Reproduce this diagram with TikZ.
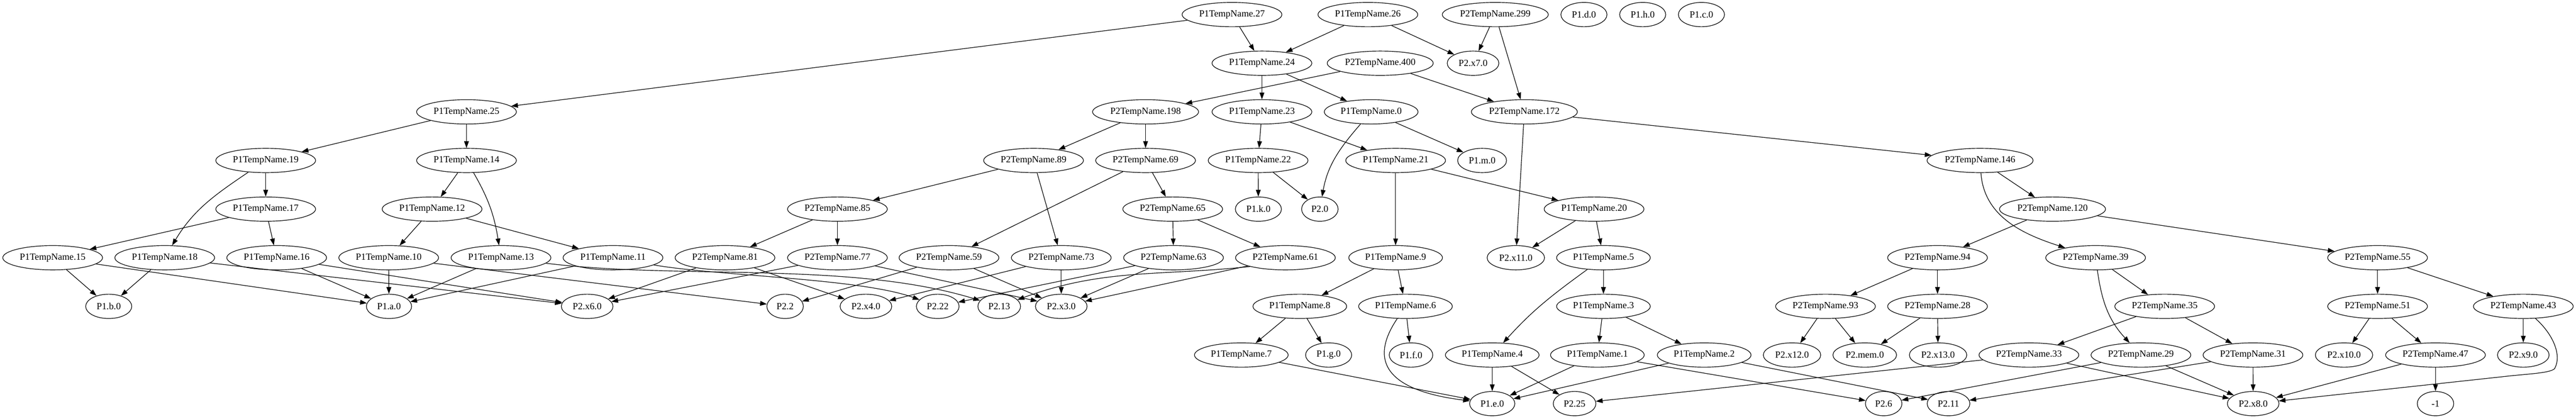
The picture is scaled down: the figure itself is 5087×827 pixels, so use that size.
\documentclass[tikz,border=0pt]{standalone}
\usepackage{fontspec}
\setmainfont{Liberation Serif}
\usetikzlibrary{shapes.geometric,arrows.meta}
\begin{document}
\begin{tikzpicture}[x=0.75pt,y=-0.75pt,
 gv/.style={draw, ellipse, line width=0.9pt, minimum height=36pt, inner sep=0pt, font=\fontsize{14pt}{16pt}\selectfont},
 wA/.style={gv, minimum width=147.75pt},
 wB/.style={gv, minimum width=138.75pt},
 wC/.style={gv, minimum width=157pt},
 wS/.style={gv, minimum width=68.25pt},
 wX/.style={gv, minimum width=76.5pt},
 wXX/.style={gv, minimum width=85pt},
 wM/.style={gv, minimum width=94.3pt},
 wN/.style={gv, minimum width=54pt},
 wNN/.style={gv, minimum width=63.2pt},
 edg/.style={draw, line width=0.9pt, -{Triangle[length=10pt,width=7pt]}}]
\useasboundingbox (0,0) rectangle (5087,827);
% row 0
\node[wA] (n27) at (2432.9,28.8) {P1TempName.27};
\node[wA] (n26) at (2701.2,28.8) {P1TempName.26};
\node[wC] (n299) at (2952.8,28.8) {P2TempName.299};
\node[wS] (p1d) at (3127.9,28.8) {P1.d.0};
\node[wS] (p1h) at (3243.9,28.8) {P1.h.0};
\node[wS] (p1c) at (3359.9,28.8) {P1.c.0};
% row 1
\node[wA] (n24) at (2492,124.8) {P1TempName.24};
\node[wC] (n400) at (2725.6,124.8) {P2TempName.400};
\node[wX] (x7) at (2908.9,124.8) {P2.x7.0};
% row 2
\node[wA] (n25) at (921.2,220.8) {P1TempName.25};
\node[wC] (n198) at (2262.2,220.8) {P2TempName.198};
\node[wA] (n23) at (2492,220.8) {P1TempName.23};
\node[wB] (n0) at (2707.7,220.8) {P1TempName.0};
\node[wC] (n172) at (3010.2,220.8) {P2TempName.172};
% row 3
\node[wA] (n19) at (524.7,316.8) {P1TempName.19};
\node[wA] (n14) at (921.2,316.8) {P1TempName.14};
\node[wA] (n89) at (2041,316.8) {P2TempName.89};
\node[wA] (n69) at (2262.2,316.8) {P2TempName.69};
\node[wA] (n22) at (2484.4,316.8) {P1TempName.22};
\node[wA] (n21) at (2756,316.8) {P1TempName.21};
\node[wS, minimum width=72.4pt] (p1m) at (2926.8,316.8) {P1.m.0};
\node[wC] (n146) at (3910.1,316.8) {P2TempName.146};
% row 4
\node[wA] (n17) at (524.7,412.8) {P1TempName.17};
\node[wA] (n12) at (853.2,412.8) {P1TempName.12};
\node[wA] (n85) at (1653.7,412.8) {P2TempName.85};
\node[wA] (n65) at (2315.8,412.8) {P2TempName.65};
\node[wS] (p1k) at (2485,412.8) {P1.k.0};
\node[wN] (p20) at (2606.4,412.8) {P2.0};
\node[wA] (n20) at (3147.9,412.8) {P1TempName.20};
\node[wC] (n120) at (4053.2,412.8) {P2TempName.120};
% row 5
\node[wA] (n15) at (104,508.8) {P1TempName.15};
\node[wA] (n18) at (325.3,508.8) {P1TempName.18};
\node[wA] (n16) at (546.4,508.8) {P1TempName.16};
\node[wA] (n10) at (767.6,508.8) {P1TempName.10};
\node[wA] (n13) at (989.3,508.8) {P1TempName.13};
\node[wA] (n11) at (1210.5,508.8) {P1TempName.11};
\node[wA] (n81) at (1431.7,508.8) {P2TempName.81};
\node[wA] (n77) at (1653.7,508.8) {P2TempName.77};
\node[wA] (n59) at (1874,508.8) {P2TempName.59};
\node[wA] (n73) at (2095.7,508.8) {P2TempName.73};
\node[wA] (n63) at (2317.4,508.8) {P2TempName.63};
\node[wA] (n61) at (2538.4,508.8) {P2TempName.61};
\node[wB] (n9) at (2756,508.8) {P1TempName.9};
\node[wXX] (x11) at (2993.4,508.8) {P2.x11.0};
\node[wB] (n5) at (3166.4,508.8) {P1TempName.5};
\node[wA] (n94) at (3826.1,508.8) {P2TempName.94};
\node[wA] (n39) at (4138.3,508.8) {P2TempName.39};
\node[wA] (n55) at (4695.1,508.8) {P2TempName.55};
% row 6
\node[wS] (p1b) at (214.7,604.8) {P1.b.0};
\node[wS, minimum width=67pt] (p1a) at (768.2,604.8) {P1.a.0};
\node[wX] (x6) at (1159.5,604.8) {P2.x6.0};
\node[wN] (p22) at (1550.4,604.8) {P2.2};
\node[wX] (x4) at (1710,604.8) {P2.x4.0};
\node[wNN] (p222) at (1851.8,604.8) {P2.22};
\node[wNN] (p213) at (1973.2,604.8) {P2.13};
\node[wX] (x3) at (2095.7,604.8) {P2.x3.0};
\node[wB] (n8) at (2566.8,604.8) {P1TempName.8};
\node[wB] (n6) at (2775.5,604.8) {P1TempName.6};
\node[wB] (n3) at (3166.4,604.8) {P1TempName.3};
\node[wA] (n93) at (3604.9,604.8) {P2TempName.93};
\node[wA] (n28) at (3826.1,604.8) {P2TempName.28};
\node[wA] (n35) at (4274.7,604.8) {P2TempName.35};
\node[wA] (n51) at (4695.1,604.8) {P2TempName.51};
\node[wA] (n43) at (4982.9,604.8) {P2TempName.43};
% row 7
\node[wB] (n7) at (2451.3,700.8) {P1TempName.7};
\node[wS] (p1g) at (2623.7,700.8) {P1.g.0};
\node[wS, minimum width=64.5pt] (p1f) at (2786.4,700.8) {P1.f.0};
\node[wB] (n4) at (2946.8,700.8) {P1TempName.4};
\node[wB] (n1) at (3154.4,700.8) {P1TempName.1};
\node[wB] (n2) at (3365.3,700.8) {P1TempName.2};
\node[wXX] (x12) at (3538.8,700.8) {P2.x12.0};
\node[wM] (mem) at (3682.4,700.8) {P2.mem.0};
\node[wXX] (x13) at (3827.2,700.8) {P2.x13.0};
\node[wA] (n33) at (4006.6,700.8) {P2TempName.33};
\node[wA] (n29) at (4227.8,700.8) {P2TempName.29};
\node[wA] (n31) at (4449,700.8) {P2TempName.31};
\node[wXX] (x10) at (4628.9,700.8) {P2.x10.0};
\node[wA] (n47) at (4809.5,700.8) {P2TempName.47};
\node[wX] (x9) at (4982.9,700.8) {P2.x9.0};
% row 8
\node[wS, minimum width=67pt] (p1e) at (2946.8,796.8) {P1.e.0};
\node[wNN] (p225) at (3109.4,796.8) {P2.25};
\node[wN] (p26) at (3719.8,796.8) {P2.6};
\node[wNN] (p211) at (3847.8,796.8) {P2.11};
\node[wX] (x8) at (4449.5,796.8) {P2.x8.0};
\node[wN] (m1) at (4809.5,796.8) {-1};
% edges
\draw[edg] (n27) -- (n25);
\draw[edg] (n27) -- (n24);
\draw[edg] (n26) -- (n24);
\draw[edg] (n26) -- (x7);
\draw[edg] (n299) -- (x7);
\draw[edg] (n299) -- (n172);
\draw[edg] (n24) -- (n23);
\draw[edg] (n24) -- (n0);
\draw[edg] (n400) -- (n198);
\draw[edg] (n400) -- (n172);
\draw[edg] (n25) -- (n19);
\draw[edg] (n25) -- (n14);
\draw[edg] (n198) -- (n89);
\draw[edg] (n198) -- (n69);
\draw[edg] (n23) -- (n22);
\draw[edg] (n23) -- (n21);
\draw[edg] (n0) to[out=229,in=80] (p20);
\draw[edg] (n0) -- (p1m);
\draw[edg] (n172) -- (n146);
\draw[edg] (n172) -- (x11);
\draw[edg] (n19) -- (n17);
\draw[edg] (n19) to[out=214,in=59] (n18);
\draw[edg] (n14) -- (n12);
\draw[edg] (n14) to[out=300,in=99] (n13);
\draw[edg] (n89) -- (n85);
\draw[edg] (n89) -- (n73);
\draw[edg] (n69) -- (n59);
\draw[edg] (n69) -- (n65);
\draw[edg] (n22) -- (p1k);
\draw[edg] (n22) -- (p20);
\draw[edg] (n21) -- (n9);
\draw[edg] (n21) -- (n20);
\draw[edg] (n146) -- (n120);
\draw[edg] (n146) to[out=274,in=162] (n39);
\draw[edg] (n17) -- (n15);
\draw[edg] (n17) -- (n16);
\draw[edg] (n12) -- (n10);
\draw[edg] (n12) -- (n11);
\draw[edg] (n85) -- (n81);
\draw[edg] (n85) -- (n77);
\draw[edg] (n65) -- (n63);
\draw[edg] (n65) -- (n61);
\draw[edg] (n20) -- (x11);
\draw[edg] (n20) -- (n5);
\draw[edg] (n120) -- (n94);
\draw[edg] (n120) -- (n55);
\draw[edg] (n15) -- (p1b);
\draw[edg] (n15) -- (p1a);
\draw[edg] (n18) -- (p1b);
\draw[edg] (n18) -- (x6);
\draw[edg] (n16) -- (p1a);
\draw[edg] (n16) -- (x6);
\draw[edg] (n10) -- (p1a);
\draw[edg] (n10) -- (p22);
\draw[edg] (n13) -- (p1a);
\draw[edg] (n13) to[out=-7,in=163,looseness=0.8] (p213);
\draw[edg] (n11) -- (p1a);
\draw[edg] (n11) to[out=-10,in=160,looseness=0.6] (p222);
\draw[edg] (n81) -- (x6);
\draw[edg] (n81) -- (x4);
\draw[edg] (n77) -- (x6);
\draw[edg] (n77) -- (x3);
\draw[edg] (n59) -- (p22);
\draw[edg] (n59) -- (x3);
\draw[edg] (n73) -- (x4);
\draw[edg] (n73) -- (x3);
\draw[edg] (n63) -- (p222);
\draw[edg] (n63) -- (x3);
\draw[edg] (n61.194) to[out=186,in=20] (p213);
\draw[edg] (n61) -- (x3);
\draw[edg] (n9) -- (n8);
\draw[edg] (n9) -- (n6);
\draw[edg] (n5) to[out=216,in=48] (n4);
\draw[edg] (n5) -- (n3);
\draw[edg] (n94) -- (n93);
\draw[edg] (n94) -- (n28);
\draw[edg] (n39) -- (n35);
\draw[edg] (n39) to[out=278,in=133] (n29);
\draw[edg] (n55) -- (n51);
\draw[edg] (n55) -- (n43);
\draw[edg] (n8) -- (n7);
\draw[edg] (n8) -- (p1g);
\draw[edg] (n6) -- (p1f);
\draw[edg] (n6) to[out=236,in=173,looseness=1.5] (p1e);
\draw[edg] (n3) -- (n1);
\draw[edg] (n3) -- (n2);
\draw[edg] (n93) -- (x12);
\draw[edg] (n93) -- (mem);
\draw[edg] (n28) -- (mem);
\draw[edg] (n28) -- (x13);
\draw[edg] (n35) -- (n33);
\draw[edg] (n35) -- (n31);
\draw[edg] (n51) -- (x10);
\draw[edg] (n51) -- (n47);
\draw[edg] (n43) -- (x9);
\draw[edg] (n43.315) .. controls (5040,658) and (5060,700) .. (5044.7,727.8) .. controls (5035,737) and (4990,738) .. (4941.7,743.7) -- (x8.6);
\draw[edg] (n7) -- (p1e);
\draw[edg] (n4) -- (p1e);
\draw[edg] (n4) -- (p225);
\draw[edg] (n1) -- (p1e);
\draw[edg] (n1) -- (p26);
\draw[edg] (n2) -- (p1e);
\draw[edg] (n2) -- (p211);
\draw[edg] (n33) -- (p225);
\draw[edg] (n33) -- (x8);
\draw[edg] (n29) -- (p26);
\draw[edg] (n29) -- (x8);
\draw[edg] (n31) -- (p211);
\draw[edg] (n31) -- (x8);
\draw[edg] (n47) -- (x8);
\draw[edg] (n47) -- (m1);
\end{tikzpicture}
\end{document}
